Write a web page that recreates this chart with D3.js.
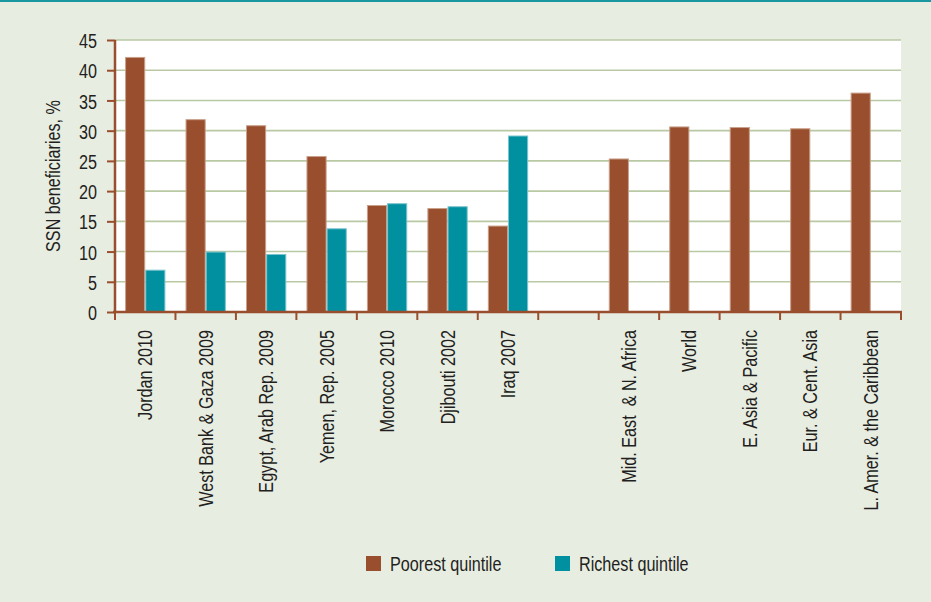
<!DOCTYPE html>
<html><head><meta charset="utf-8">
<script src="https://cdn.jsdelivr.net/npm/d3@7"></script>
<style>
body{margin:0;background:#e8ede2;}
svg{display:block;}
text{font-family:"Liberation Sans",Arial,sans-serif;fill:#231f20;}
</style></head><body>
<svg id="c" width="931" height="602"></svg>
<script>
const categories = ["Jordan 2010","West Bank & Gaza 2009","Egypt, Arab Rep. 2009","Yemen, Rep. 2005","Morocco 2010","Djibouti 2002","Iraq 2007","","Mid. East  & N. Africa","World","E. Asia & Pacific","Eur. & Cent. Asia","L. Amer. & the Caribbean"];
const poorest = [42.2,31.9,30.9,25.8,17.7,17.2,14.3,null,25.4,30.7,30.6,30.4,36.3];
const richest = [7.0,10.0,9.6,13.85,18.0,17.5,29.2,null,null,null,null,null,null];
const yTicks = [0,5,10,15,20,25,30,35,40,45];
const seriesNames = ["Poorest quintile","Richest quintile"];
const colors = ["#994e2e","#0090a0"];
const strokes = ["#c9a08a","#7cc4cc"];

const svg = d3.select("#c");
const W=931,H=602;
const SX=0.77;
const x0 = d3.scaleBand().domain(d3.range(categories.length)).range([115,901]).paddingInner(0).paddingOuter(0);
const y = d3.scaleLinear().domain([0,45]).range([312,40]);

svg.append("rect").attr("x",0).attr("y",0).attr("width",W).attr("height",H).attr("fill","#e8ede2");
svg.append("rect").attr("x",0).attr("y",0).attr("width",W).attr("height",2).attr("fill","#1a98a2");
svg.append("rect").attr("x",115).attr("y",40).attr("width",786).attr("height",272).attr("fill","#ffffff");

// gridlines
svg.append("g").selectAll("line").data(yTicks.filter(d=>d>0)).join("line")
  .attr("x1",115).attr("x2",901).attr("y1",d=>y(d)).attr("y2",d=>y(d))
  .attr("stroke","#b9c9a4").attr("stroke-width",1.6);

// bars
const bw = x0.bandwidth()/3;
const bars = svg.append("g");
categories.forEach((c,i)=>{
  const vals=[poorest[i],richest[i]];
  vals.forEach((v,j)=>{
    if(v==null) return;
    const bx = x0(i)+x0.bandwidth()/6 + j*bw;
    bars.append("rect").attr("x",bx+0.5).attr("y",y(v)+0.5).attr("width",bw-1).attr("height",y(0)-y(v)-0.5)
      .attr("fill",colors[j]).attr("stroke",strokes[j]).attr("stroke-width",1);
  });
});

// y axis
const yAxis = d3.axisLeft(y).tickValues(yTicks).tickSize(8).tickPadding(10);
const gy = svg.append("g").attr("transform","translate(115,0)").call(yAxis);
gy.select(".domain").attr("stroke","#994e2e").attr("stroke-width",2.5).attr("d","M0,40V313");
gy.selectAll(".tick line").attr("stroke","#994e2e").attr("stroke-width",2);
gy.selectAll(".tick text").attr("font-size",21).attr("fill","#231f20")
  .style("font-family","'Liberation Sans',Arial,sans-serif")
  .attr("x",0).attr("dy","0.36em").attr("transform",`translate(-18,0) scale(${SX},1)`);

// x axis
const xTickScale = d3.scaleLinear().domain([0,categories.length]).range([115,901]);
const gx = svg.append("g").attr("transform","translate(0,312)");
gx.append("line").attr("x1",113).attr("x2",902).attr("y1",0).attr("y2",0).attr("stroke","#994e2e").attr("stroke-width",2.5);
gx.selectAll("line.tk").data(d3.range(categories.length+1)).join("line").attr("class","tk")
  .attr("x1",d=>xTickScale(d)).attr("x2",d=>xTickScale(d)).attr("y1",0).attr("y2",8)
  .attr("stroke","#994e2e").attr("stroke-width",2);
gx.selectAll("text").data(categories).join("text")
  .attr("transform",(d,i)=>`translate(${x0(i)+x0.bandwidth()/2+7},18) rotate(-90) scale(${SX},1)`)
  .attr("text-anchor","end").attr("font-size",21).text(d=>d).style("white-space","pre");

// y title
svg.append("text").attr("transform",`translate(60,176) rotate(-90) scale(${SX},1)`).attr("text-anchor","middle")
  .attr("font-size",21).text("SSN beneficiaries, %");

// legend
const legX=[366,555];
seriesNames.forEach((n,j)=>{
  svg.append("rect").attr("x",legX[j]).attr("y",556).attr("width",15).attr("height",15).attr("fill",colors[j]);
  svg.append("text").attr("transform",`translate(${legX[j]+24},571) scale(${SX},1)`).attr("font-size",21).text(n);
});
</script></body></html>
